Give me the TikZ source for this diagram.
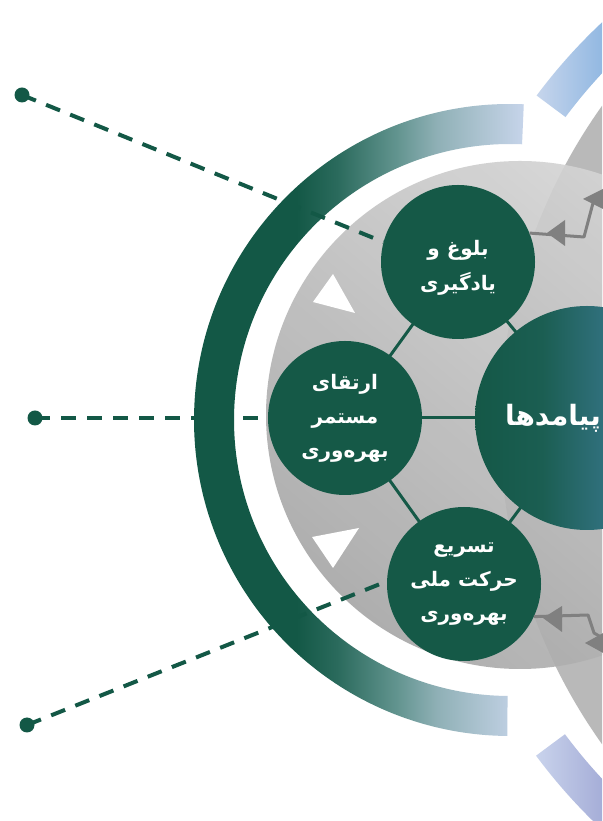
\documentclass[tikz,border=0pt]{standalone}
\usepackage{fontspec}
\newfontfamily\arfont[Script=Arabic]{DejaVu Sans}
\TeXXeTstate=1
\usetikzlibrary{calc}
\pgfdeclarelayer{bg}
\pgfdeclarelayer{lnk}
\pgfsetlayers{bg,lnk,main}
\definecolor{dkg}{HTML}{135846}
\definecolor{cg}{HTML}{155947}
\definecolor{g1}{HTML}{2A6A5C}
\definecolor{g2}{HTML}{62948F}
\definecolor{g3}{HTML}{8FB0B6}
\definecolor{g4}{HTML}{ACC3D0}
\definecolor{g5}{HTML}{C6D4EA}
\definecolor{bl1}{HTML}{C6D5EC}
\definecolor{bl2}{HTML}{8EB6E1}
\definecolor{bl3}{HTML}{5B9BD5}
\definecolor{pu1}{HTML}{C9D3EC}
\definecolor{pu2}{HTML}{A3ABD6}
\definecolor{pu3}{HTML}{7B7AB5}
\definecolor{m1}{HTML}{145847}
\definecolor{m2}{HTML}{1B5E52}
\definecolor{m3}{HTML}{2F6F7A}
\definecolor{m4}{HTML}{3F8290}
\definecolor{lgA}{HTML}{D6D6D6}
\definecolor{lgB}{HTML}{A6A6A6}
\definecolor{discA}{HTML}{B9B9B9}
\definecolor{arrgray}{HTML}{808080}
\pgfdeclarehorizontalshading{greenarc}{100bp}{color(0bp)=(dkg); color(41bp)=(dkg); color(47bp)=(g1); color(56bp)=(g2); color(62bp)=(g3); color(68.5bp)=(g4); color(75bp)=(g5); color(100bp)=(g5)}
\pgfdeclarehorizontalshading{bluearc}{100bp}{color(0bp)=(bl1); color(25bp)=(bl1); color(33bp)=(bl2); color(40bp)=(bl3); color(100bp)=(bl3)}
\pgfdeclarehorizontalshading{purplearc}{100bp}{color(0bp)=(pu1); color(25bp)=(pu1); color(33bp)=(pu2); color(40bp)=(pu3); color(100bp)=(pu3)}
\pgfdeclarehorizontalshading{mainshade}{100bp}{color(0bp)=(m1); color(25bp)=(m1); color(40bp)=(m2); color(53bp)=(m3); color(75bp)=(m4); color(100bp)=(m4)}
\begin{document}
\begin{tikzpicture}[x=1pt,y=1pt,
  gcirc/.style={circle, fill=cg, minimum size=154pt, inner sep=0pt, text=white, align=center, font=\arfont\bfseries\fontsize{20}{34}\selectfont},
  ctext/.style={text=white, align=center, font=\arfont\bfseries\fontsize{20}{35}\selectfont},
  maincirc/.style={circle, shading=mainshade, minimum size=224pt, inner sep=0pt},
  link/.style={draw=cg, line width=3pt},
  leader/.style={draw=dkg, line width=4pt, dash pattern=on 15pt off 11pt},
  dotn/.style={circle, fill=dkg, minimum size=15pt, inner sep=0pt},
  garrow/.style={draw=arrgray, line width=3pt, line join=round},
  ahead/.style={fill=arrgray},
  tri/.style={fill=white}]
\useasboundingbox (0,0) rectangle (602,821);
\begin{pgfonlayer}{bg}
\clip (0,0) rectangle (602,821);
\fill[white] (0,0) rectangle (602,821);
% big gray disc on the right
\fill[discA] (1050,396) circle[radius=550];
% blue and purple arcs
\shade[shading=bluearc] (980,395) ++(143.3:553) arc[start angle=143.3, end angle=125, radius=553] -- ($(980,395)+(125:517)$) arc[start angle=125, end angle=143.3, radius=517] -- cycle;
\shade[shading=purplearc] (980,395) ++(216.6:553) arc[start angle=216.6, end angle=235, radius=553] -- ($(980,395)+(235:517)$) arc[start angle=235, end angle=216.6, radius=517] -- cycle;
% light gray disc
\shade[top color=lgA, bottom color=lgB, shading angle=-40, fill opacity=0.9] (520,406) circle[radius=254];
% green outer arc
\shade[shading=greenarc] (510,401) ++(87.5:316) arc[start angle=87.5, end angle=269.5, radius=316] -- ($(510,401)+(269.5:276)$) arc[start angle=269.5, end angle=87.5, radius=276] -- cycle;
% white triangles
\fill[tri] (333,547) -- (313,519) -- (355,508) -- cycle;
\fill[tri] (312,284) -- (359,293) -- (333,253) -- cycle;
\end{pgfonlayer}
% nodes
\node[maincirc] (m) at (587,403) {};
\node[gcirc] (c1) at (458,559) {};
\node[ctext] (c1t) at (458,553) {\beginR بلوغ و\endR\\\beginR یادگیری\endR};
\node[gcirc] (c2) at (345,403) {\beginR ارتقای\endR\\\beginR مستمر\endR\\\beginR بهره‌وری\endR};
\node[gcirc] (c3) at (464,237) {\beginR تسریع\endR\\\beginR حرکت ملی\endR\\\beginR بهره‌وری\endR};
\node[text=white, font=\arfont\bfseries\fontsize{28}{34}\selectfont] (mt) at (553,403) {\beginR پیامدها\endR};
% links between circles
\begin{pgfonlayer}{lnk}
\draw[link] (c1.center) -- (c2.center);
\draw[link] (c2.center) -- (c3.center);
\draw[link] (c2.center) -- (m.center);
\draw[link] (c1.center) -- (m.center);
\draw[link] (c3.center) -- (m.center);
\end{pgfonlayer}
\node[dotn] (d1) at (22,726) {};
\node[dotn] (d2) at (35,403) {};
\node[dotn] (d3) at (27,96) {};
\draw[leader] (d1.center) -- (c1.165);
\draw[leader] (d2.center) -- (c2.west);
\draw[leader] (d3.center) -- (c3.178);
% gray zigzag connectors
\coordinate (t1) at (584,584);
\coordinate (t2) at (593,618);
\coordinate (t3) at (606,628);
\draw[garrow] (c1.22) -- (t1) -- (t2) -- (t3);
\fill[ahead] (547,588) -- (565,601) -- (565,575) -- cycle;
\fill[ahead] (583,622) -- (605,633) -- (605,611) -- cycle;
\coordinate (b1) at (588,206);
\coordinate (b2) at (594,188);
\coordinate (b3) at (606,181);
\draw[garrow] (c3.-25) -- (b1) -- (b2) -- (b3);
\fill[ahead] (543,203) -- (562,215) -- (562,189) -- cycle;
\fill[ahead] (585,178) -- (605,189) -- (605,167) -- cycle;
\end{tikzpicture}
\end{document}
